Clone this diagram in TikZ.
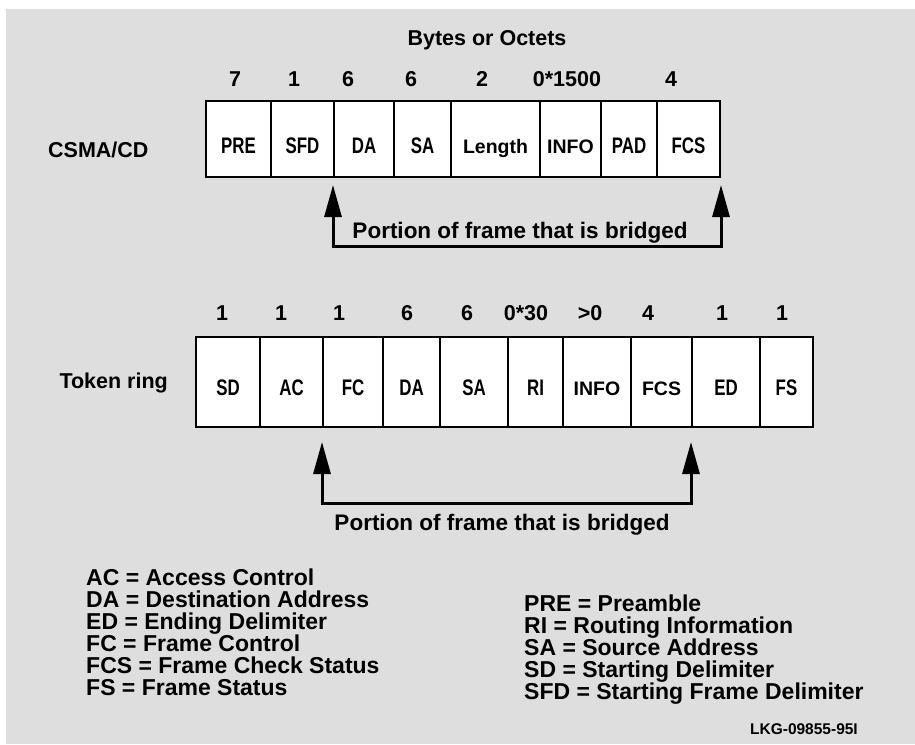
\documentclass[tikz,border=0pt]{standalone}
\usepackage{fontspec}
\setmainfont{Liberation Sans}
\newfontfamily\narrowfont{Liberation Sans}[FakeStretch=0.75]
\usetikzlibrary{arrows.meta}
\definecolor{panel}{RGB}{222,222,222}
\tikzset{
  field/.style={draw,line width=2pt,fill=white,inner sep=0pt},
  tag/.style={font=\narrowfont\bfseries\fontsize{22.5}{22.5}\selectfont,inner sep=0pt,anchor=base},
  tagwide/.style={font=\bfseries\fontsize{19.5}{19.5}\selectfont,inner sep=0pt,anchor=base},
  head/.style={font=\bfseries\fontsize{21.5}{21.5}\selectfont,inner sep=0pt},
  note/.style={font=\bfseries\fontsize{22.5}{22.5}\selectfont,inner sep=0pt},
  key/.style={font=\bfseries\fontsize{23}{23}\selectfont,inner sep=0pt,anchor=base west},
  bridge/.style={line width=3pt,{Triangle[length=32pt,width=17pt]}-{Triangle[length=32pt,width=17pt]}}
}
\begin{document}
\begin{tikzpicture}[x=1pt,y=-1pt]
\useasboundingbox (0,0) rectangle (915,744);
\fill[panel] (6,9) rectangle (915,744);
% CSMA/CD frame
\node[head,anchor=west] (csma) at (48,150) {CSMA/CD};
\node[head] (bytes) at (487,40) {Bytes or Octets};
\foreach \x/\n [count=\i] in {235/7,294/1,348/6,411/6,482/2,567/0*1500,671/4}{
  \node[head] (cn\i) at (\x,79) {\n};
}
\foreach \l/\r/\t/\s [count=\i] in {206/271/PRE/tag,271/334/SFD/tag,334/394/DA/tag,394/451/SA/tag,451/540/Length/tagwide,540/601/INFO/tagwide,601/657/PAD/tag,657/720/FCS/tag}{
  \node[field,minimum width={(\r-\l)*1pt},minimum height=76pt] (c\i) at ({(\l+\r)/2},139) {};
  \node[\s] (ct\i) at ([yshift=-14pt]c\i.center) {\t};
}
\draw[bridge] ([yshift=-7pt]c3.south west) |- ([yshift=-68pt]c8.south east) -- ([yshift=-7pt]c8.south east);
\node[note] (cb) at (520,233) {Portion of frame that is bridged};
% token ring frame
\node[head,anchor=east] (ring) at (168,383) {Token ring};
\foreach \x/\n [count=\i] in {222/1,281/1,339/1,407/6,467/6,526/0*30,590/>0,648/4,722/1,782/1}{
  \node[head] (tn\i) at (\x,313) {\n};
}
\foreach \l/\r/\t/\s [count=\i] in {196/260/SD/tag,260/323/AC/tag,323/383/FC/tag,383/440/DA/tag,440/508/SA/tag,508/563/RI/tag,563/631/INFO/tagwide,631/692/FCS/tagwide,692/760/ED/tag,760/813/FS/tag}{
  \node[field,minimum width={(\r-\l)*1pt},minimum height=90pt] (t\i) at ({(\l+\r)/2},382) {};
  \node[\s] (tt\i) at ([yshift=-13pt]t\i.center) {\t};
}
\draw[bridge] ([yshift=-14pt]t3.south west) |- ([yshift=-75pt]t9.south west) -- ([yshift=-14pt]t9.south west);
\node[note] (tb) at (502,525) {Portion of frame that is bridged};
% legend
\foreach \t [count=\i] in {AC = Access Control,DA = Destination Address,ED = Ending Delimiter,FC = Frame Control,FCS = Frame Check Status,FS = Frame Status}{
  \node[key] (ka\i) at (86,563+22*\i) {\t};
}
\foreach \t [count=\i] in {PRE = Preamble,RI = Routing Information,SA = Source Address,SD = Starting Delimiter,SFD = Starting Frame Delimiter}{
  \node[key] (kb\i) at (524,589+22*\i) {\t};
}
\node[font=\bfseries\fontsize{15.5}{15.5}\selectfont,inner sep=0pt,anchor=east] (lkg) at (858,729) {LKG-09855-95I};
\end{tikzpicture}
\end{document}
